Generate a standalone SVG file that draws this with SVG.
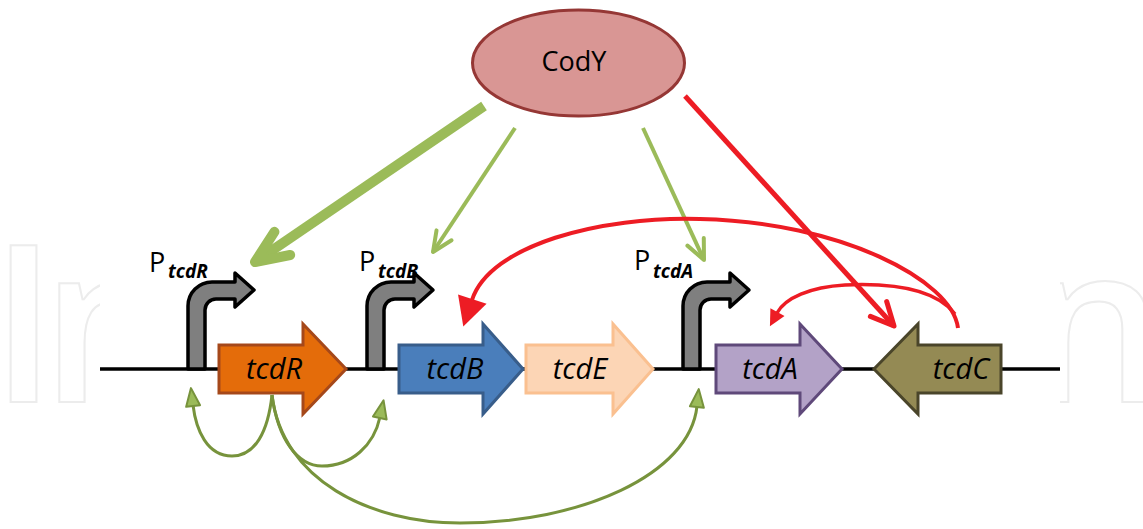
<svg xmlns="http://www.w3.org/2000/svg" width="1143" height="529" viewBox="0 0 1143 529">
<style>
.wm{font-family:"Open Sans","Liberation Sans",sans-serif;font-size:220px;font-weight:600;fill:none;stroke:#ececec;stroke-width:2}
.backbone{stroke:#000;stroke-width:3.5;fill:none}
.prom{fill:#7f7f7f;stroke:#000;stroke-width:3.5;stroke-linejoin:round}
.plbl{font-family:"Open Sans","Liberation Sans",sans-serif;font-size:27px;fill:#000}
.psub{font-size:19px;font-style:italic;font-weight:700}
.gene{stroke-width:3;stroke-linejoin:miter}
.glbl{font-family:"Open Sans","Liberation Sans",sans-serif;font-size:29px;font-style:italic;fill:#000;text-anchor:middle}
.cody{fill:#d99694;stroke:#953735;stroke-width:3}
.codylbl{font-family:"Open Sans","Liberation Sans",sans-serif;font-size:27px;fill:#000;text-anchor:middle}
.gact{fill:none;stroke:#9bbb59}
.red{fill:none;stroke:#ed1c24}
.gloop{fill:none;stroke:#77933c;stroke-width:3}
</style>
<defs>
<clipPath id="wmclip"><rect x="0" y="0" width="100" height="529"/><rect x="1060" y="0" width="83" height="529"/></clipPath>
<marker id="chevThick" markerUnits="userSpaceOnUse" markerWidth="1" markerHeight="1" refX="0" refY="0" orient="auto" overflow="visible">
<path d="M-33,-14 L0,0 L-33,14" fill="none" stroke="#9bbb59" stroke-width="10" stroke-linecap="round" stroke-linejoin="round"/>
</marker>
<marker id="chevThin" markerUnits="userSpaceOnUse" markerWidth="1" markerHeight="1" refX="0" refY="0" orient="auto" overflow="visible">
<path d="M-20,-9 L0,0 L-20,9" fill="none" stroke="#9bbb59" stroke-width="4" stroke-linecap="round" stroke-linejoin="round"/>
</marker>
<marker id="chevRed" markerUnits="userSpaceOnUse" markerWidth="1" markerHeight="1" refX="0" refY="0" orient="auto" overflow="visible">
<path d="M-23,-11 L0,0 L-23,11" fill="none" stroke="#ed1c24" stroke-width="5" stroke-linecap="round" stroke-linejoin="round"/>
</marker>
<marker id="triRedBig" markerUnits="userSpaceOnUse" markerWidth="1" markerHeight="1" refX="0" refY="0" orient="auto" overflow="visible">
<path d="M-1,-15 L28,0 L-1,15 Z" fill="#ed1c24"/>
</marker>
<marker id="triRedSmall" markerUnits="userSpaceOnUse" markerWidth="1" markerHeight="1" refX="0" refY="0" orient="auto" overflow="visible">
<path d="M-1,-8 L15,0 L-1,8 Z" fill="#ed1c24"/>
</marker>
<marker id="triGreen" markerUnits="userSpaceOnUse" markerWidth="1" markerHeight="1" refX="0" refY="0" orient="auto" overflow="visible">
<path d="M-1,-7 L17,0 L-1,7 Z" fill="#9bbb59" stroke="#77933c" stroke-width="2" stroke-linejoin="round"/>
</marker>
<path id="promShape" d="M0,369 L0,306 A24,24 0 0 1 24,282 L47,282 L47,273 L66,290 L47,307 L47,299 L28,299 A11,11 0 0 0 17,310 L17,369 Z"/>
</defs>
<rect width="1143" height="529" fill="#fff"/>
<g id="watermark" clip-path="url(#wmclip)">
<text class="wm" x="-10" y="402" letter-spacing="-30">I<tspan dx="14">n</tspan></text>
<text class="wm" x="1025" y="402">n</text>
</g>
<g id="backbone"><line class="backbone" x1="100" y1="369" x2="1060" y2="369"/></g>
<g id="PtcdR">
<use href="#promShape" class="prom" x="188"/>
<text class="plbl" x="149" y="272">P<tspan class="psub" x="168" dy="6">tcdR</tspan></text>
</g>
<g id="PtcdB">
<use href="#promShape" class="prom" x="367"/>
<text class="plbl" x="359" y="271">P<tspan class="psub" x="378" dy="7">tcdB</tspan></text>
</g>
<g id="PtcdA">
<use href="#promShape" class="prom" x="683"/>
<text class="plbl" x="634" y="270">P<tspan class="psub" x="653" dy="8">tcdA</tspan></text>
</g>
<g id="tcdR">
<path class="gene" fill="#e46c0a" stroke="#a5481a" d="M219,345 L303,345 L303,324 L346,369 L303,414 L303,393 L219,393 Z"/>
<text class="glbl" x="274" y="379">tcdR</text>
</g>
<g id="tcdB">
<path class="gene" fill="#4a7ebb" stroke="#385d8a" d="M399,345 L483,345 L483,324 L523,369 L483,414 L483,393 L399,393 Z"/>
<text class="glbl" x="455" y="379">tcdB</text>
</g>
<g id="tcdE">
<path class="gene" fill="#fcd5b5" stroke="#fac090" d="M526,345 L613,345 L613,324 L653,369 L613,414 L613,393 L526,393 Z"/>
<text class="glbl" x="580" y="379">tcdE</text>
</g>
<g id="tcdA">
<path class="gene" fill="#b3a2c7" stroke="#5f497a" d="M716,345 L800,345 L800,324 L842,369 L800,414 L800,393 L716,393 Z"/>
<text class="glbl" x="770" y="379">tcdA</text>
</g>
<g id="tcdC">
<path class="gene" fill="#948a54" stroke="#4a452a" d="M1001,345 L918,345 L918,324 L874,369 L918,414 L918,393 L1001,393 Z"/>
<text class="glbl" x="961" y="379">tcdC</text>
</g>
<g id="CodY">
<ellipse class="cody" cx="578.5" cy="63" rx="106" ry="53"/>
<text class="codylbl" x="574" y="71">CodY</text>
</g>
<g id="connectors">
<line class="gact" stroke-width="10" x1="484" y1="106" x2="255" y2="262" marker-end="url(#chevThick)"/>
<line class="gact" stroke-width="4" x1="515" y1="128" x2="433" y2="252" marker-end="url(#chevThin)"/>
<line class="gact" stroke-width="4" x1="643" y1="128" x2="704" y2="260" marker-end="url(#chevThin)"/>
<path class="red" stroke-width="4" d="M958,328 C952,280 840,222 700,219 C600,216 490,245 472,300" marker-end="url(#triRedBig)"/>
<path class="red" stroke-width="3.5" d="M955,314 C935,288 890,283 845,285 C810,287 785,298 777,313" marker-end="url(#triRedSmall)"/>
<line class="red" stroke-width="5" x1="685" y1="96" x2="894" y2="326" marker-end="url(#chevRed)"/>
<path class="gloop" d="M272,395 C268,432 255,456 232,456 C207,456 196,430 193,405" marker-end="url(#triGreen)"/>
<path class="gloop" d="M272,395 C278,440 298,466 322,466 C352,466 374,445 380,417" marker-end="url(#triGreen)"/>
<path class="gloop" d="M272,395 C282,480 370,523 460,523 C580,523 690,475 697,406" marker-end="url(#triGreen)"/>
</g>
</svg>
